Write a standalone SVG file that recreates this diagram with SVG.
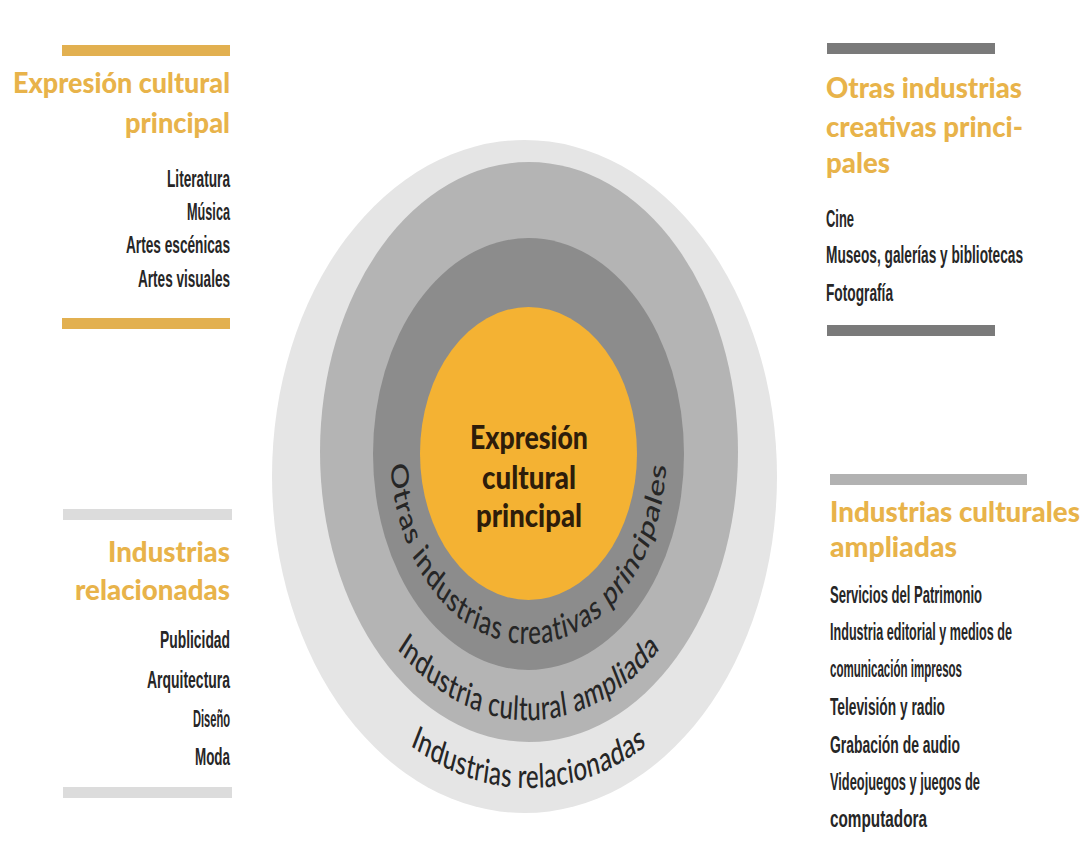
<svg xmlns="http://www.w3.org/2000/svg" xmlns:xlink="http://www.w3.org/1999/xlink" width="1083" height="856" viewBox="0 0 1083 856">
<style>
.ttl{font-family:Lato,"Liberation Sans",sans-serif;font-weight:900;font-size:28px;fill:#E8B34A}
.itm{font-family:"Liberation Sans",Arial,sans-serif;font-weight:bold;font-size:24px;fill:#262626}
.ring{font-family:Lato,"Liberation Sans",sans-serif;font-weight:500;font-size:24px;fill:#262626}
.core{font-family:Lato,"Liberation Sans",sans-serif;font-weight:900;font-size:26px;fill:#2e1d0a}
.gold{fill:#E2B050}.dk{fill:#7a7a7a}.lt{fill:#dcdcdc}.md{fill:#b2b2b2}
</style>
<defs>
<path id="arc1" d="M -129.68 -47.2 A 138 138 0 1 0 129.68 -47.2"/>
<path id="arc2" d="M -181.36 -66.01 A 193 193 0 1 0 181.36 -66.01"/>
<path id="arc3" d="M -227.41 -82.77 A 242 242 0 1 0 227.41 -82.77"/>
</defs>
<rect width="1083" height="856" fill="#ffffff"/>
<g id="connectors"/>
<g id="ring-relacionadas">
<ellipse cx="524.5" cy="476.5" rx="252.5" ry="336.5" fill="#e5e5e5"/>
<g transform="translate(528.5 453) scale(1 1.385)"><text class="ring" style="letter-spacing:0.3px"><textPath xlink:href="#arc3" href="#arc3" startOffset="50%" text-anchor="middle">Industrias relacionadas</textPath></text></g>
</g>
<g id="ring-ampliada">
<ellipse cx="529" cy="452" rx="209" ry="290" fill="#b4b4b4"/>
<g transform="translate(528.5 453) scale(1 1.385)"><text class="ring" style="letter-spacing:0.4px"><textPath xlink:href="#arc2" href="#arc2" startOffset="50%" text-anchor="middle">Industria cultural ampliada</textPath></text></g>
</g>
<g id="ring-otras">
<ellipse cx="528.5" cy="454" rx="155.5" ry="216" fill="#8c8c8c"/>
<g transform="translate(528.5 453) scale(1 1.385)"><text class="ring" style="letter-spacing:0.8px"><textPath xlink:href="#arc1" href="#arc1" startOffset="50%" text-anchor="middle">Otras industrias creativas principales</textPath></text></g>
</g>
<g id="core">
<ellipse cx="528.5" cy="453.5" rx="108.5" ry="146.5" fill="#f4b233"/>
<g transform="translate(529 453) scale(1 1.25)">
<text class="core" x="0" y="-3.2" text-anchor="middle" textLength="118" lengthAdjust="spacingAndGlyphs">Expresión</text>
<text class="core" x="0" y="28.8" text-anchor="middle" textLength="94" lengthAdjust="spacingAndGlyphs">cultural</text>
<text class="core" x="0" y="59.2" text-anchor="middle" textLength="106" lengthAdjust="spacingAndGlyphs">principal</text>
</g>
</g>
<g id="panel-expresion">
<rect class="gold" x="62" y="45" width="168" height="11"/>
<text class="ttl" x="230" y="93" text-anchor="end" textLength="217" lengthAdjust="spacingAndGlyphs">Expresión cultural</text>
<text class="ttl" x="230" y="133" text-anchor="end" textLength="105" lengthAdjust="spacingAndGlyphs">principal</text>
<text class="itm" x="230" y="187" text-anchor="end" textLength="63" lengthAdjust="spacingAndGlyphs">Literatura</text>
<text class="itm" x="230" y="220" text-anchor="end" textLength="43" lengthAdjust="spacingAndGlyphs">Música</text>
<text class="itm" x="230" y="253" text-anchor="end" textLength="104" lengthAdjust="spacingAndGlyphs">Artes escénicas</text>
<text class="itm" x="230" y="287" text-anchor="end" textLength="92" lengthAdjust="spacingAndGlyphs">Artes visuales</text>
<rect class="gold" x="62" y="318" width="168" height="11"/>
</g>
<g id="panel-otras">
<rect class="dk" x="827" y="43" width="168" height="11"/>
<text class="ttl" x="826" y="98" textLength="196" lengthAdjust="spacingAndGlyphs">Otras industrias</text>
<text class="ttl" x="826" y="137" textLength="197" lengthAdjust="spacingAndGlyphs">creativas princi-</text>
<text class="ttl" x="826" y="173" textLength="64" lengthAdjust="spacingAndGlyphs">pales</text>
<text class="itm" x="826" y="227" textLength="28" lengthAdjust="spacingAndGlyphs">Cine</text>
<text class="itm" x="826" y="263" textLength="197" lengthAdjust="spacingAndGlyphs">Museos, galerías y bibliotecas</text>
<text class="itm" x="826" y="301" textLength="67" lengthAdjust="spacingAndGlyphs">Fotografía</text>
<rect class="dk" x="827" y="325" width="168" height="11"/>
</g>
<g id="panel-relacionadas">
<rect class="lt" x="63" y="509" width="169" height="11"/>
<text class="ttl" x="230" y="562" text-anchor="end" textLength="122" lengthAdjust="spacingAndGlyphs">Industrias</text>
<text class="ttl" x="230" y="600" text-anchor="end" textLength="155" lengthAdjust="spacingAndGlyphs">relacionadas</text>
<text class="itm" x="230" y="648" text-anchor="end" textLength="70" lengthAdjust="spacingAndGlyphs">Publicidad</text>
<text class="itm" x="230" y="688" text-anchor="end" textLength="83" lengthAdjust="spacingAndGlyphs">Arquitectura</text>
<text class="itm" x="230" y="727" text-anchor="end" textLength="37" lengthAdjust="spacingAndGlyphs">Diseño</text>
<text class="itm" x="230" y="765" text-anchor="end" textLength="35" lengthAdjust="spacingAndGlyphs">Moda</text>
<rect class="lt" x="63" y="787" width="169" height="11"/>
</g>
<g id="panel-ampliadas">
<rect class="md" x="830" y="474" width="197" height="11"/>
<text class="ttl" x="830" y="522" textLength="250" lengthAdjust="spacingAndGlyphs">Industrias culturales</text>
<text class="ttl" x="830" y="557" textLength="127" lengthAdjust="spacingAndGlyphs">ampliadas</text>
<text class="itm" x="830" y="603" textLength="152" lengthAdjust="spacingAndGlyphs">Servicios del Patrimonio</text>
<text class="itm" x="830" y="640" textLength="182" lengthAdjust="spacingAndGlyphs">Industria editorial y medios de</text>
<text class="itm" x="830" y="677" textLength="132" lengthAdjust="spacingAndGlyphs">comunicación impresos</text>
<text class="itm" x="830" y="715" textLength="115" lengthAdjust="spacingAndGlyphs">Televisión y radio</text>
<text class="itm" x="830" y="753" textLength="130" lengthAdjust="spacingAndGlyphs">Grabación de audio</text>
<text class="itm" x="830" y="790" textLength="150" lengthAdjust="spacingAndGlyphs">Videojuegos y juegos de</text>
<text class="itm" x="830" y="827" textLength="97" lengthAdjust="spacingAndGlyphs">computadora</text>
</g>
</svg>
